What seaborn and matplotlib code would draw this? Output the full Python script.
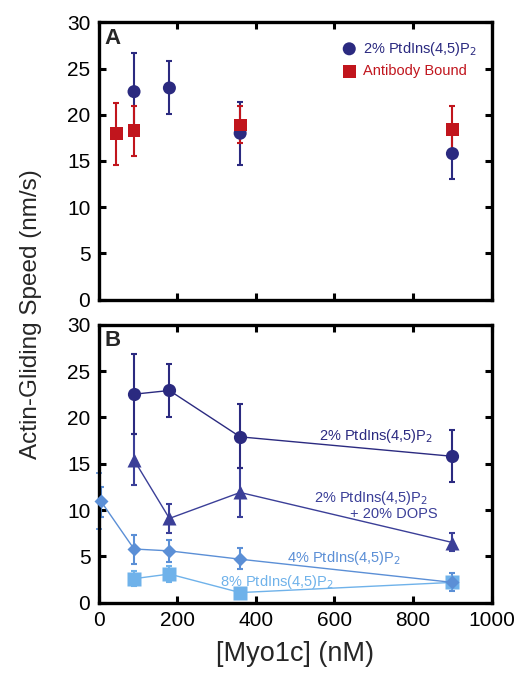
import numpy as np
import pandas as pd
import matplotlib
matplotlib.use("Agg")
import matplotlib.pyplot as plt
import seaborn as sns

# panel A data
a_pip_x = [90, 180, 360, 900]
a_pip_y = [22.5, 22.9, 18.0, 15.8]
a_pip_lo = [18.2, 20.1, 14.6, 13.0]
a_pip_hi = [26.7, 25.8, 21.4, 18.6]

a_ab_x = [45, 90, 360, 900]
a_ab_y = [18.0, 18.3, 18.9, 18.4]
a_ab_lo = [14.6, 15.5, 16.9, 15.8]
a_ab_hi = [21.3, 21.0, 21.0, 20.9]

# panel B data
b_x = [90, 180, 360, 900]
b_pip2_y = [22.5, 22.9, 17.9, 15.8]
b_pip2_lo = [18.2, 20.0, 14.5, 13.0]
b_pip2_hi = [26.8, 25.8, 21.4, 18.6]

b_dops_y = [15.4, 9.1, 11.9, 6.5]
b_dops_lo = [12.7, 7.5, 9.2, 5.6]
b_dops_hi = [18.2, 10.7, 14.5, 7.5]

b_pip4_x = [5, 90, 180, 360, 900]
b_pip4_y = [11.0, 5.8, 5.6, 4.7, 2.2]
b_pip4_lo = [9.3, 4.2, 4.4, 3.6, 1.3]
b_pip4_hi = [12.5, 7.3, 6.8, 5.9, 3.2]

b_pip8_y = [2.6, 3.1, 1.1, 2.2]
b_pip8_lo = [1.8, 2.2, 1.1, 1.8]
b_pip8_hi = [3.4, 4.0, 1.1, 2.6]

# extra bar at zero
zero_x = [0]
zero_y = [11.0]
zero_lo = [8.0]
zero_hi = [14.0]

navy = "#2b2a80"
tri_c = "#3b3f98"
dia_c = "#5b8fd6"
sq_c = "#6fb2ea"
red = "#c1151d"

sns.set_style("ticks")
plt.rcParams['font.family'] = ['Liberation Sans', 'DejaVu Sans']

fig = plt.figure(figsize=(5.22, 6.75), dpi=100)
axA = fig.add_axes([0.189, 0.556, 0.753, 0.411])
axB = fig.add_axes([0.189, 0.107, 0.753, 0.412])


def bars(ax, x, y, lo, hi, c, lw=1.5):
    y = np.array(y)
    err = [y - np.array(lo), np.array(hi) - y]
    ax.errorbar(x, y, yerr=err, fmt="none", ecolor=c, elinewidth=lw,
                capsize=2.5, capthick=lw, zorder=2)


# panel A
bars(axA, a_pip_x, a_pip_y, a_pip_lo, a_pip_hi, navy)
bars(axA, a_ab_x, a_ab_y, a_ab_lo, a_ab_hi, red)
sns.scatterplot(x=a_pip_x, y=a_pip_y, ax=axA, color=navy, marker="o", s=88,
                edgecolor="none", zorder=3, label="2% PtdIns(4,5)P$_2$")
sns.scatterplot(x=a_ab_x, y=a_ab_y, ax=axA, color=red, marker="s", s=85,
                edgecolor="none", zorder=4, label="Antibody Bound")
leg = axA.legend(loc="upper right", frameon=False, fontsize=10.5, handletextpad=0.35,
                 borderaxespad=0.6, labelspacing=0.45, handlelength=1.2,
                 bbox_to_anchor=(1.0, 0.99))
for t, c in zip(leg.get_texts(), [navy, red]):
    t.set_color(c)

# panel B
bars(axB, zero_x, zero_y, zero_lo, zero_hi, dia_c, lw=1.2)
bars(axB, b_x, b_pip8_y, b_pip8_lo, b_pip8_hi, sq_c)
bars(axB, b_pip4_x, b_pip4_y, b_pip4_lo, b_pip4_hi, dia_c)
bars(axB, b_x, b_dops_y, b_dops_lo, b_dops_hi, tri_c)
bars(axB, b_x, b_pip2_y, b_pip2_lo, b_pip2_hi, navy)
sns.lineplot(x=b_x, y=b_pip8_y, ax=axB, color=sq_c, marker="s", markersize=9.5,
             markeredgecolor="none", linewidth=1.0, zorder=3)
sns.lineplot(x=b_pip4_x, y=b_pip4_y, ax=axB, color=dia_c, marker="D", markersize=7.5,
             markeredgecolor="none", linewidth=1.0, zorder=3)
sns.lineplot(x=b_x, y=b_dops_y, ax=axB, color=tri_c, marker="^", markersize=9.5,
             markeredgecolor="none", linewidth=1.0, zorder=3)
sns.lineplot(x=b_x, y=b_pip2_y, ax=axB, color=navy, marker="o", markersize=9.5,
             markeredgecolor="none", linewidth=1.0, zorder=3)

axB.text(850, 17.6, "2% PtdIns(4,5)P$_2$", color=navy, fontsize=10.5, ha="right")
axB.text(838, 10.9, "2% PtdIns(4,5)P$_2$", color=tri_c, fontsize=10.5, ha="right")
axB.text(862, 9.1, "+ 20% DOPS", color=tri_c, fontsize=10.5, ha="right")
axB.text(770, 4.4, "4% PtdIns(4,5)P$_2$", color=dia_c, fontsize=10.5, ha="right")
axB.text(600, 1.8, "8% PtdIns(4,5)P$_2$", color=sq_c, fontsize=10.5, ha="right")

for ax, lab in [(axA, "A"), (axB, "B")]:
    ax.set_xlim(0, 1000)
    ax.set_ylim(0, 30)
    ax.set_xticks([0, 200, 400, 600, 800, 1000])
    ax.set_yticks([0, 5, 10, 15, 20, 25, 30])
    ax.tick_params(direction="in", length=5, width=2.2, top=True, right=True,
                   labelsize=15, colors="black", pad=6)
    for s in ax.spines.values():
        s.set_visible(True)
        s.set_linewidth(2.4)
        s.set_color("black")
    ax.text(0.015, 0.98, lab, transform=ax.transAxes, fontsize=16,
            fontweight="bold", va="top", ha="left")
    for c in ax.collections + ax.lines:
        c.set_clip_on(False)

axA.tick_params(labelbottom=False)
axB.set_xlabel("[Myo1c] (nM)", fontsize=19.5, labelpad=8)
fig.text(0.06, 0.535, "Actin-Gliding Speed (nm/s)", rotation=90, fontsize=17.5,
         ha="center", va="center")

fig.savefig("out.png", dpi=100)
